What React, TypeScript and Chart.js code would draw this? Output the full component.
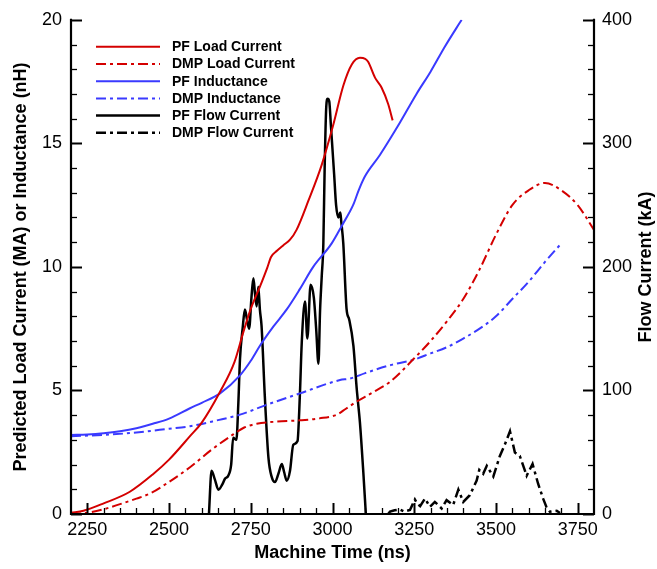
import React, { useEffect, useRef } from "react";
import { Chart, registerables } from "chart.js";

Chart.register(...registerables);

// ---------- data ----------
const X_MIN = 2200;
const X_MAX = 3800;
const X_TICKS = [2250, 2500, 2750, 3000, 3250, 3500, 3750];
const X_MINOR_STEP = 50;
const Y_TICKS = [0, 5, 10, 15, 20];
const Y_MINOR_STEP = 1;
const Y1_TICKS = [0, 100, 200, 300, 400];
const Y1_MINOR_STEP = 20;

const pfLoadT = [2200, 2238, 2300, 2380, 2450, 2500, 2564, 2600, 2656, 2700, 2727, 2750, 2778, 2800, 2812, 2830, 2849, 2870, 2890, 2926, 2967, 3002, 3033, 3059, 3084, 3100, 3109, 3130, 3150, 3170, 3184];
const pfLoadV = [0.05, 0.13, 0.43, 0.9, 1.6, 2.2, 3.15, 3.7, 4.95, 6.15, 7.35, 8.3, 9.2, 9.95, 10.4, 10.65, 10.87, 11.1, 11.5, 12.67, 14.13, 15.73, 17.33, 18.19, 18.46, 18.42, 18.3, 17.66, 17.26, 16.6, 15.93];

const dmpLoadT = [2200, 2250, 2299, 2350, 2400, 2442, 2500, 2564, 2630, 2696, 2730, 2768, 2830, 2900, 2960, 3013, 3040, 3074, 3120, 3176, 3250, 3300, 3350, 3400, 3450, 3500, 3550, 3600, 3650, 3700, 3750, 3800];
const dmpLoadV = [0.0, 0.05, 0.19, 0.4, 0.62, 0.83, 1.3, 1.89, 2.6, 3.22, 3.5, 3.65, 3.74, 3.79, 3.87, 4.02, 4.25, 4.55, 4.9, 5.35, 6.3, 7.0, 7.8, 8.7, 9.9, 11.3, 12.5, 13.1, 13.4, 13.1, 12.5, 11.5];

const pfIndT = [2200, 2250, 2300, 2350, 2400, 2450, 2500, 2564, 2600, 2656, 2717, 2750, 2778, 2820, 2860, 2900, 2941, 2997, 3030, 3064, 3080, 3099, 3145, 3200, 3257, 3300, 3344, 3395];
const pfIndV = [3.2, 3.22, 3.27, 3.35, 3.47, 3.65, 3.86, 4.28, 4.5, 4.88, 5.61, 6.2, 6.81, 7.6, 8.28, 9.1, 10.0, 10.94, 11.7, 12.53, 13.1, 13.66, 14.53, 15.7, 17.0, 17.9, 18.92, 20.0];

const dmpIndT = [2200, 2300, 2400, 2500, 2564, 2650, 2717, 2799, 2900, 3023, 3053, 3100, 3176, 3250, 3300, 3350, 3400, 3450, 3500, 3550, 3600, 3650, 3700];
const dmpIndV = [3.15, 3.2, 3.3, 3.45, 3.55, 3.8, 4.02, 4.42, 4.88, 5.42, 5.48, 5.7, 6.02, 6.25, 6.5, 6.75, 7.1, 7.5, 8.0, 8.7, 9.4, 10.2, 10.95];

const pfFlowT = [2622, 2630, 2640, 2651, 2663, 2671, 2681, 2690, 2696, 2706, 2712, 2717, 2725, 2732, 2738, 2745, 2752, 2758, 2763, 2768, 2773, 2778, 2783, 2793, 2804, 2814, 2824, 2835, 2845, 2852, 2860, 2870, 2880, 2893, 2900, 2906, 2916, 2923, 2933, 2943, 2950, 2957, 2962, 2967, 2972, 2976, 2981, 2985, 2990, 2995, 3000, 3005, 3011, 3018, 3024, 3027, 3033, 3043, 3051, 3064, 3074, 3084, 3094, 3102];
const pfFlowV = [0, 35, 28, 19.7, 24, 28.5, 31, 40, 61.7, 60, 90, 125.6, 150, 165.5, 158, 150, 175, 190.8, 178, 168, 184, 165, 152, 95, 45.7, 30, 25.8, 33, 40.5, 34, 27, 35, 56, 59, 95, 139, 172, 142, 185.5, 175, 150, 121.6, 165, 192, 219, 280, 330, 336, 334, 315, 295, 275, 250, 240, 244, 236, 219, 166, 157.5, 136, 101.6, 73.7, 35, 0];

const dmpFlowT = [3170, 3176, 3190, 3206, 3220, 3237, 3252, 3260, 3268, 3283, 3298, 3313, 3334, 3349, 3369, 3385, 3400, 3420, 3441, 3449, 3461, 3472, 3492, 3512, 3530, 3543, 3558, 3573, 3594, 3612, 3629, 3645, 3655, 3665, 3686, 3696];
const dmpFlowV = [0, 1.9, 3, 3.7, 2, 3.2, 11.7, 8, 6.4, 12.5, 5.8, 9.8, 4.5, 11.2, 7.2, 19.7, 9.8, 15.2, 27, 35.7, 32.5, 39, 30.3, 47, 58, 67, 49.7, 47, 31, 40.5, 24.5, 12, 5.3, 1.8, 2.6, 0.8];

const LABELS = ["PF Load Current", "DMP Load Current", "PF Inductance", "DMP Inductance", "PF Flow Current", "DMP Flow Current"];

// ---------- styles ----------
const RED = "#d40000";
const BLUE = "#3a3aff";
const BLACK = "#000000";
const DASHDOT = [10, 4, 3, 4];
const FONT = "'Liberation Sans', Arial, Helvetica, sans-serif";

const pts = (t: number[], v: number[]) => t.map((x, i) => ({ x, y: v[i] }));

const frameAndTicks = {
  id: "frameAndTicks",
  afterDatasetsDraw(chart: any) {
    const { ctx, chartArea: a, scales } = chart;
    ctx.save();
    ctx.strokeStyle = "#000";
    ctx.lineCap = "butt";
    const xs = scales.x;
    for (let t = X_MIN + X_MINOR_STEP; t < X_MAX; t += X_MINOR_STEP) {
      const px = Math.round(xs.getPixelForValue(t)) + 0.5;
      const major = X_TICKS.includes(t);
      ctx.lineWidth = major ? 2 : 1.3;
      ctx.beginPath();
      ctx.moveTo(px, a.bottom);
      ctx.lineTo(px, a.bottom - (major ? 11 : 6));
      ctx.stroke();
    }
    const ys = scales.y;
    for (let v = 0; v <= 20; v += Y_MINOR_STEP) {
      const py = Math.round(ys.getPixelForValue(v)) + 0.5;
      const major = Y_TICKS.includes(v);
      ctx.lineWidth = major ? 2 : 1.3;
      ctx.beginPath();
      ctx.moveTo(a.left, py);
      ctx.lineTo(a.left + (major ? 11 : 6), py);
      ctx.stroke();
    }
    const y1 = scales.y1;
    for (let v = 0; v <= 400; v += Y1_MINOR_STEP) {
      const py = Math.round(y1.getPixelForValue(v)) + 0.5;
      const major = Y1_TICKS.includes(v);
      ctx.lineWidth = major ? 2 : 1.3;
      ctx.beginPath();
      ctx.moveTo(a.right, py);
      ctx.lineTo(a.right - (major ? 11 : 6), py);
      ctx.stroke();
    }
    ctx.lineWidth = 2.2;
    ctx.beginPath();
    ctx.moveTo(a.left, a.top - 1);
    ctx.lineTo(a.left, a.bottom);
    ctx.lineTo(a.right, a.bottom);
    ctx.lineTo(a.right, a.top - 1);
    ctx.stroke();

    ctx.fillStyle = "#000";
    ctx.font = `bold 18px ${FONT}`;
    ctx.textAlign = "center";
    ctx.textBaseline = "middle";
    ctx.translate(646, (a.top + a.bottom) / 2);
    ctx.rotate(-Math.PI / 2);
    ctx.fillText("Flow Current (kA)", 0, 0);
    ctx.restore();

    ctx.save();
    ctx.font = `bold 14px ${FONT}`;
    ctx.textAlign = "left";
    ctx.textBaseline = "middle";
    chart.data.datasets.forEach((ds: any, i: number) => {
      const y = a.top + 27 + i * 17.2;
      ctx.strokeStyle = ds.borderColor;
      ctx.lineWidth = ds.borderWidth;
      ctx.setLineDash(ds.borderDash || []);
      ctx.beginPath();
      ctx.moveTo(a.left + 25, y);
      ctx.lineTo(a.left + 89, y);
      ctx.stroke();
      ctx.setLineDash([]);
      ctx.fillStyle = "#000";
      ctx.fillText(ds.label, a.left + 101, y + 0.5);
    });
    ctx.restore();
  },
};

export default function App() {
  const ref = useRef<HTMLCanvasElement | null>(null);
  useEffect(() => {
    document.body.style.margin = "0";
    Chart.defaults.font.family = FONT;
    const line = (label: string, t: number[], v: number[], color: string, width: number, dash: number[] | undefined, axis: string, tension: number) => ({
      label,
      data: pts(t, v),
      borderColor: color,
      backgroundColor: color,
      borderWidth: width,
      borderDash: dash,
      pointRadius: 0,
      fill: false,
      tension,
      cubicInterpolationMode: tension > 0 ? ("monotone" as const) : ("default" as const),
      yAxisID: axis,
    });
    const chart = new Chart(ref.current as HTMLCanvasElement, {
      type: "line",
      data: {
        datasets: [
          line(LABELS[0], pfLoadT, pfLoadV, RED, 2, undefined, "y", 0.4),
          line(LABELS[1], dmpLoadT, dmpLoadV, RED, 2, DASHDOT, "y", 0.4),
          line(LABELS[2], pfIndT, pfIndV, BLUE, 2, undefined, "y", 0.4),
          line(LABELS[3], dmpIndT, dmpIndV, BLUE, 2, DASHDOT, "y", 0.4),
          line(LABELS[4], pfFlowT, pfFlowV, BLACK, 2.5, undefined, "y1", 0.4),
          line(LABELS[5], dmpFlowT, dmpFlowV, BLACK, 2.5, DASHDOT, "y1", 0),
        ],
      },
      options: {
        animation: false,
        responsive: false,
        layout: { padding: { top: 13, left: 0, right: 0, bottom: 0 } },
        plugins: { legend: { display: false }, tooltip: { enabled: false } },
        scales: {
          x: {
            type: "linear",
            min: X_MIN,
            max: X_MAX,
            grid: { display: false, drawTicks: false },
            border: { display: false },
            afterBuildTicks: (s: any) => {
              s.ticks = X_TICKS.map((value) => ({ value }));
            },
            afterFit: (s: any) => {
              s.height = 55;
            },
            ticks: { color: "#000", font: { size: 18 }, padding: 5, maxRotation: 0, autoSkip: false, callback: (v: any) => String(v) },
            title: { display: true, text: "Machine Time (ns)", color: "#000", font: { size: 18, weight: "bold" }, padding: { top: 0, bottom: 5 } },
          },
          y: {
            type: "linear",
            position: "left",
            min: 0,
            max: 20,
            grid: { display: false, drawTicks: false },
            border: { display: false },
            afterBuildTicks: (s: any) => {
              s.ticks = Y_TICKS.map((value) => ({ value }));
            },
            afterFit: (s: any) => {
              s.width = 71;
            },
            ticks: { color: "#000", font: { size: 18 }, padding: 9 },
            title: { display: true, text: "Predicted Load Current (MA) or Inductance (nH)", color: "#000", font: { size: 18, weight: "bold" }, padding: { top: 10, bottom: 0 } },
          },
          y1: {
            type: "linear",
            position: "right",
            min: 0,
            max: 400,
            grid: { display: false, drawTicks: false },
            border: { display: false },
            afterBuildTicks: (s: any) => {
              s.ticks = Y1_TICKS.map((value) => ({ value }));
            },
            afterFit: (s: any) => {
              s.width = 63;
            },
            ticks: { color: "#000", font: { size: 18 }, padding: 8 },
          },
        },
      },
      plugins: [frameAndTicks],
    });
    return () => chart.destroy();
  }, []);
  return (
    <div style={{ width: 657, height: 569 }}>
      <canvas ref={ref} width={657} height={569} style={{ width: 657, height: 569, display: "block" }} />
    </div>
  );
}
